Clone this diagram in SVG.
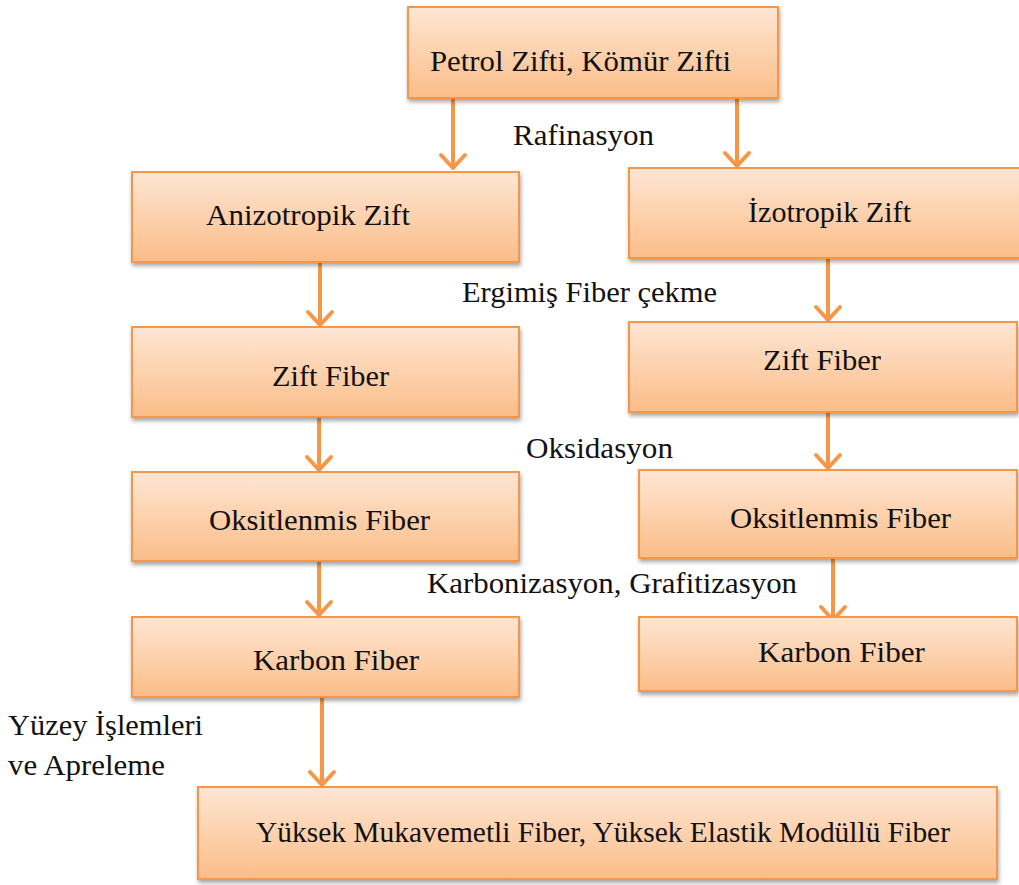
<svg xmlns="http://www.w3.org/2000/svg" width="1019" height="885" viewBox="0 0 1019 885">
<defs>
<linearGradient id="g" x1="0" y1="0" x2="0" y2="1">
<stop offset="0" stop-color="#fee6d4"/>
<stop offset="1" stop-color="#fbbd88"/>
</linearGradient>
<filter id="sh" x="-5%" y="-5%" width="110%" height="125%">
<feGaussianBlur in="SourceAlpha" stdDeviation="2"/>
<feOffset dx="1" dy="3"/>
<feComponentTransfer><feFuncA type="linear" slope="0.35"/></feComponentTransfer>
<feMerge><feMergeNode/><feMergeNode in="SourceGraphic"/></feMerge>
</filter>
</defs>
<style>
.box{fill:url(#g);stroke:#f79646;stroke-width:2;filter:url(#sh)}
.t{font-family:'Liberation Serif','Times New Roman','DejaVu Serif',serif;font-size:29px;fill:#111}
.ln{stroke:#f79646;stroke-width:4;fill:none;stroke-linecap:round;stroke-linejoin:round}
</style>
<g id="connectors">
<path class="ln" d="M453 98V168M441 155L453 168L465 155"/>
<path class="ln" d="M737 98V166M725 153L737 166L749 153"/>
<path class="ln" d="M320 263V325M308 312L320 325L332 312"/>
<path class="ln" d="M828 259V320M816 307L828 320L840 307"/>
<path class="ln" d="M319 418V470M307 457L319 470L331 457"/>
<path class="ln" d="M828 413V468M816 455L828 468L840 455"/>
<path class="ln" d="M319 562V615M307 602L319 615L331 602"/>
<path class="ln" d="M833 547V620M821 607L833 620L845 607"/>
<path class="ln" d="M322 692V785M310 772L322 785L334 772"/>
</g>
<g id="n1"><rect class="box" x="408" y="7" width="370" height="91"/><text class="t" x="430" y="71" textLength="301" lengthAdjust="spacingAndGlyphs">Petrol Zifti, Kömür Zifti</text></g>
<g id="n2"><rect class="box" x="132" y="172" width="387" height="90"/><text class="t" x="206" y="225" textLength="204" lengthAdjust="spacingAndGlyphs">Anizotropik Zift</text></g>
<g id="n3"><rect class="box" x="629" y="168" width="392" height="90"/><text class="t" x="748" y="222" textLength="163" lengthAdjust="spacingAndGlyphs">İzotropik Zift</text></g>
<g id="n4"><rect class="box" x="132" y="327" width="387" height="90"/><text class="t" x="272" y="386" textLength="117" lengthAdjust="spacingAndGlyphs">Zift Fiber</text></g>
<g id="n5"><rect class="box" x="629" y="322" width="388" height="90"/><text class="t" x="763" y="370" textLength="118" lengthAdjust="spacingAndGlyphs">Zift Fiber</text></g>
<g id="n6"><rect class="box" x="132" y="472" width="387" height="89"/><text class="t" x="209" y="530" textLength="221" lengthAdjust="spacingAndGlyphs">Oksitlenmis Fiber</text></g>
<g id="n7"><rect class="box" x="639" y="470" width="378" height="88"/><text class="t" x="730" y="528" textLength="221" lengthAdjust="spacingAndGlyphs">Oksitlenmis Fiber</text></g>
<g id="n8"><rect class="box" x="132" y="617" width="387" height="80"/><text class="t" x="253" y="670" textLength="166" lengthAdjust="spacingAndGlyphs">Karbon Fiber</text></g>
<g id="n9"><rect class="box" x="639" y="617" width="378" height="74"/><text class="t" x="758" y="662" textLength="167" lengthAdjust="spacingAndGlyphs">Karbon Fiber</text></g>
<g id="n10"><rect class="box" x="198" y="787" width="799" height="92"/><text class="t" x="256" y="842" textLength="694" lengthAdjust="spacingAndGlyphs">Yüksek Mukavemetli Fiber, Yüksek Elastik Modüllü Fiber</text></g>
<g id="labels">
<text class="t" x="513" y="145" textLength="141" lengthAdjust="spacingAndGlyphs">Rafinasyon</text>
<text class="t" x="462" y="302" textLength="255" lengthAdjust="spacingAndGlyphs">Ergimiş Fiber çekme</text>
<text class="t" x="526" y="458" textLength="147" lengthAdjust="spacingAndGlyphs">Oksidasyon</text>
<text class="t" x="427" y="593" textLength="370" lengthAdjust="spacingAndGlyphs">Karbonizasyon, Grafitizasyon</text>
<text class="t" x="8" y="735" textLength="195" lengthAdjust="spacingAndGlyphs">Yüzey İşlemleri</text>
<text class="t" x="8" y="775" textLength="157" lengthAdjust="spacingAndGlyphs">ve Apreleme</text>
</g>
</svg>
